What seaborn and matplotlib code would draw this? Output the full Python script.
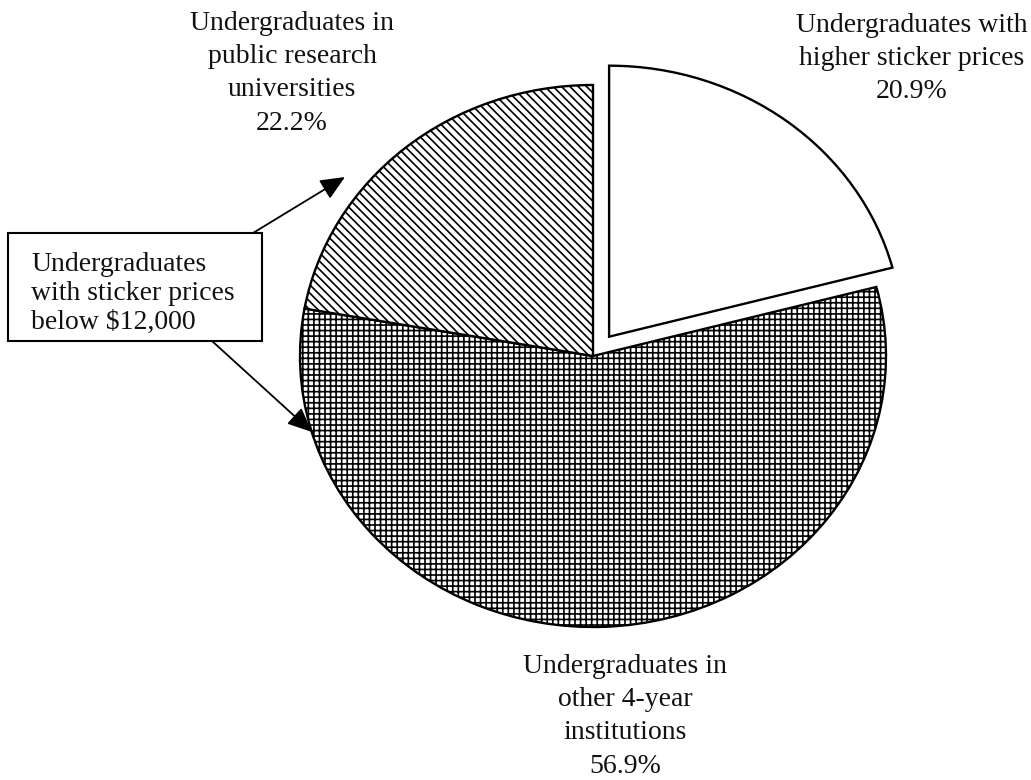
import matplotlib.pyplot as plt
import seaborn as sns
from matplotlib.patches import Rectangle

# Shares of undergraduates (clockwise from 12 o'clock)
groups = ["higher", "other4yr", "public_research"]
shares = [20.9, 56.9, 22.2]
hatches = ["", "+++", "\\\\\\\\"]
explode = [0.09, 0.0, 0.0]

labels = {
    "higher": "Undergraduates with\nhigher sticker prices\n20.9%",
    "public_research": "Undergraduates in\npublic research\nuniversities\n22.2%",
    "other4yr": "Undergraduates in\nother 4-year\ninstitutions\n56.9%",
}
box_text = "Undergraduates\nwith sticker prices\nbelow $12,000"

sns.set_theme(style="white")
plt.rcParams["font.family"] = ["Liberation Serif", "DejaVu Serif"]
plt.rcParams["hatch.linewidth"] = 1.2

W, H = 1031, 780
fig = plt.figure(figsize=(W / 100, H / 100), dpi=100)
ax = fig.add_axes([0, 0, 1, 1])

wedges, _ = ax.pie(
    shares,
    startangle=90,
    counterclock=False,
    explode=explode,
    colors=["white"] * 3,
    hatch=hatches,
    wedgeprops=dict(edgecolor="black", linewidth=1.7),
)

# pie is slightly wider than tall in the original
cx, cy, rx, ry = 593, 356, 293, 271
ax.set_aspect("auto")
ax.set_xlim(-cx / rx, (W - cx) / rx)
ax.set_ylim(-(H - cy) / ry, cy / ry)
ax.axis("off")


def fx(px):
    return px / W


def fy(py):
    return 1 - py / H


fs = 20
txt = dict(ha="center", va="top", fontsize=fs, linespacing=1.43, color="#111111")
fig.text(fx(292), fy(11), labels["public_research"], **txt)
fig.text(fx(912), fy(13), labels["higher"], **txt)
fig.text(fx(625), fy(654), labels["other4yr"], **txt)

# callout box
fig.patches.append(Rectangle((fx(8), fy(341)), fx(262) - fx(8), fy(233) - fy(341),
                             transform=fig.transFigure, facecolor="white",
                             edgecolor="black", linewidth=1.5, zorder=3))
fig.text(fx(31), fy(252), box_text, ha="left", va="top", fontsize=fs,
         linespacing=1.2, color="#111111", zorder=4)

arrow = dict(arrowstyle="-|>,head_length=0.5,head_width=0.22", mutation_scale=30,
             lw=1.3, color="black", shrinkA=0, shrinkB=0)
ax.annotate("", xy=(fx(345), fy(177)), xytext=(fx(253), fy(233)),
            xycoords="figure fraction", textcoords="figure fraction", arrowprops=arrow)
ax.annotate("", xy=(fx(312), fy(432)), xytext=(fx(212), fy(341)),
            xycoords="figure fraction", textcoords="figure fraction", arrowprops=arrow)

fig.savefig("out.png", dpi=100)
